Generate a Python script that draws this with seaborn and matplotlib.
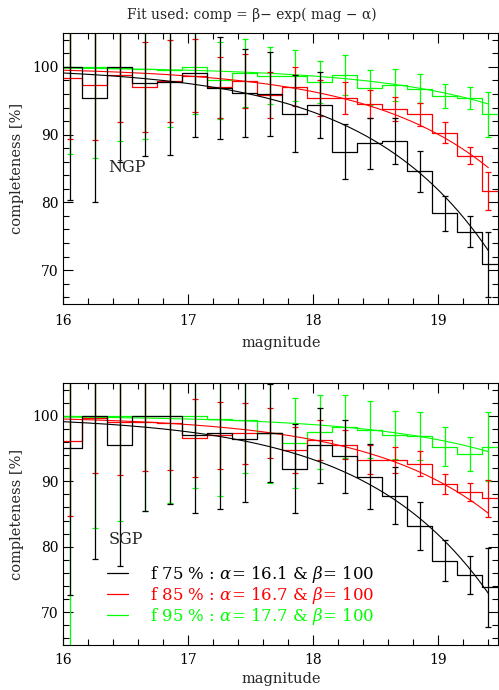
import numpy as np
import matplotlib
matplotlib.use("Agg")
import matplotlib.pyplot as plt
import seaborn as sns
from matplotlib.lines import Line2D
from matplotlib.ticker import MultipleLocator

# ---------------- data ----------------
mag_edges = [15.95, 16.15, 16.35, 16.55, 16.75, 16.95, 17.15, 17.35, 17.55, 17.75,
             17.95, 18.15, 18.35, 18.55, 18.75, 18.95, 19.15, 19.35, 19.55]
mag_centers = [16.05, 16.25, 16.45, 16.65, 16.85, 17.05, 17.25, 17.45, 17.65,
               17.85, 18.05, 18.25, 18.45, 18.65, 18.85, 19.05, 19.25, 19.40]

ngp_f75 = [100.0, 95.4, 100.0, 97.6, 97.8, 99.1, 96.9, 96.2, 96.0, 93.1, 94.4, 87.5,
           88.7, 89.0, 84.6, 78.4, 75.7, 70.9]
ngp_f75_err = [19.7, 15.3, 14.0, 10.8, 10.8, 9.4, 7.5, 6.5, 6.2, 5.7, 4.9, 4.1,
               3.8, 3.4, 3.0, 2.6, 2.3, 4.8]
ngp_f85 = [98.3, 97.3, 98.8, 97.0, 97.9, 98.7, 97.0, 97.9, 95.8, 97.1, 95.4, 95.4,
           94.5, 93.8, 93.0, 90.3, 86.9, 81.7]
ngp_f85_err = [9.0, 8.1, 7.0, 6.6, 6.0, 5.4, 4.5, 4.0, 3.4, 2.9, 2.7, 2.4,
               2.1, 1.8, 1.7, 1.5, 1.3, 2.8]
ngp_f95 = [100.0, 100.0, 99.8, 99.7, 99.6, 100.0, 98.0, 99.1, 98.7, 98.7, 97.7, 98.8,
           96.9, 97.3, 96.8, 95.7, 95.4, 93.0]
ngp_f95_err = [12.8, 13.4, 10.7, 10.4, 8.5, 7.0, 5.7, 5.0, 4.2, 3.8, 3.1, 2.9,
               2.6, 2.4, 2.2, 1.8, 1.6, 3.3]

sgp_f75 = [95.1, 100.0, 95.5, 100.0, 100.0, 97.0, 97.3, 96.5, 97.4, 91.9, 95.5, 93.8,
           90.7, 87.8, 83.2, 77.9, 75.7, 73.8]
sgp_f75_err = [22.5, 21.9, 18.5, 14.6, 13.5, 11.9, 11.6, 9.6, 7.5, 6.8, 5.7, 5.6,
               5.0, 4.4, 3.7, 3.2, 2.9, 6.0]
sgp_f85 = [96.1, 99.7, 99.0, 99.0, 98.9, 96.6, 97.0, 97.3, 97.4, 94.8, 96.3, 95.6,
           93.3, 93.3, 92.7, 89.6, 88.4, 87.4]
sgp_f85_err = [11.4, 8.5, 8.1, 7.5, 7.2, 6.0, 5.1, 4.6, 3.8, 3.5, 3.0, 2.2,
               2.2, 2.0, 1.9, 1.55, 1.35, 2.85]
sgp_f95 = [100.0, 100.0, 100.0, 99.9, 99.9, 100.0, 99.5, 99.3, 97.4, 95.8, 97.5, 98.3,
           97.9, 97.1, 96.9, 95.3, 94.1, 95.3]
sgp_f95_err = [38.0, 17.2, 16.0, 14.5, 13.2, 11.1, 11.7, 8.1, 7.6, 6.9, 5.7, 4.8,
               4.3, 3.7, 3.6, 3.0, 2.6, 5.2]

fractions = ["75", "85", "95"]
fit_alpha = [16.1, 16.7, 17.7]
fit_beta = [100, 100, 100]
colors = ["black", "#ff0000", "#00ff00"]
fit_range = [16.0, 19.40]

# ---------------- style ----------------
sns.set_style("ticks")
plt.rcParams["font.family"] = ["DejaVu Serif"]
plt.rcParams["mathtext.fontset"] = "dejavuserif"
plt.rcParams["axes.linewidth"] = 0.8

fig = plt.figure(figsize=(4.99, 6.90), dpi=100)
ax_top = fig.add_axes([0.1269, 0.5594, 0.8717, 0.3928])
ax_bot = fig.add_axes([0.1269, 0.0652, 0.8717, 0.3797])

panels = [
    (ax_top, "NGP", [ngp_f75, ngp_f85, ngp_f95], [ngp_f75_err, ngp_f85_err, ngp_f95_err], 85.1, 7, 6),
    (ax_bot, "SGP", [sgp_f75, sgp_f85, sgp_f95], [sgp_f75_err, sgp_f85_err, sgp_f95_err], 81.1, 6, 3),
]

xfit = np.linspace(fit_range[0], fit_range[1], 200)

for ax, name, vals, errs, name_y, xpad, xlabpad in panels:
    # draw green first, then red, then black on top
    for i in [2, 1, 0]:
        c = colors[i]
        v = np.asarray(vals[i])
        step_y = np.append(v, v[-1])
        sns.lineplot(x=mag_edges, y=step_y, drawstyle="steps-post", color=c,
                     lw=0.9, ax=ax, estimator=None, sort=False)
        ax.errorbar(mag_centers, v, yerr=errs[i], fmt="none", ecolor=c,
                    elinewidth=0.9, capsize=2.2, capthick=0.9)
        yfit = fit_beta[i] - np.exp(xfit - fit_alpha[i])
        sns.lineplot(x=xfit, y=yfit, color=c, lw=0.8, ax=ax, estimator=None, sort=False)

    ax.set_xlim(16.0, 19.48)
    ax.set_ylim(65, 105)
    ax.xaxis.set_major_locator(MultipleLocator(1))
    ax.xaxis.set_minor_locator(MultipleLocator(0.2))
    ax.yaxis.set_major_locator(MultipleLocator(10))
    ax.yaxis.set_minor_locator(MultipleLocator(2))
    ax.tick_params(which="both", direction="in", top=True, right=True,
                   labelsize=10, width=0.8, colors="black")
    ax.tick_params(which="major", length=7)
    ax.tick_params(which="minor", length=4)
    ax.tick_params(axis="x", which="both", pad=xpad)
    ax.set_xticks([16, 17, 18, 19])
    ax.set_xticklabels(["16", "17", "18", "19"])
    ax.set_yticks([70, 80, 90, 100])
    ax.set_yticklabels(["70", "80", "90", "100"])
    ax.set_xlabel("magnitude", fontsize=10.5, labelpad=xlabpad)
    ax.set_ylabel("completeness [%]", fontsize=10.5, labelpad=6)
    ax.text(16.36, name_y, name, fontsize=11.5, ha="left", va="center")
    for s in ax.spines.values():
        s.set_visible(True)
        s.set_color("black")

handles = [Line2D([0], [0], color=c, lw=0.9) for c in colors]
labels = [rf"f {f} % : $\alpha$= {a} & $\beta$= {b}" for f, a, b in zip(fractions, fit_alpha, fit_beta)]
leg = ax_bot.legend(handles, labels, loc="upper left", bbox_to_anchor=(0.10, 0.31),
                    frameon=False, fontsize=12, handlelength=1.3, handletextpad=1.3,
                    labelspacing=0.0, borderpad=0, borderaxespad=0, labelcolor="linecolor")

fig.text(0.505, 0.978, "Fit used: comp = β− exp( mag − α)", ha="center", va="center",
         fontsize=10)

fig.savefig("out.png", dpi=100)
